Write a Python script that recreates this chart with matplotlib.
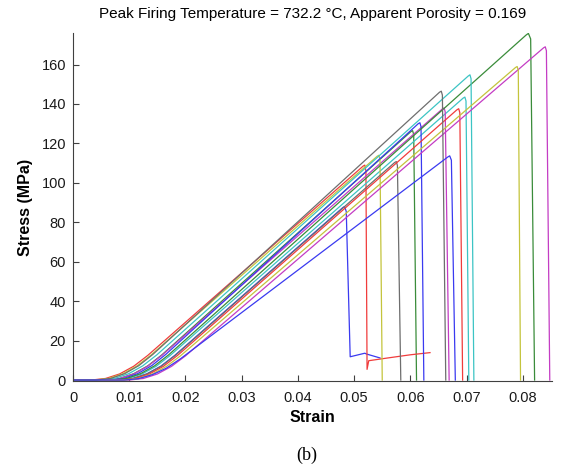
import matplotlib
matplotlib.use("Agg")
import matplotlib.pyplot as plt

# colours of the traces (old MATLAB order, drawn a bit lighter)
c_blue = "#3a3af0"
c_green = "#3a8c3a"
c_red = "#f03c3c"
c_cyan = "#3cc4c4"
c_magenta = "#c43cc4"
c_yellow = "#c4c43c"
c_gray = "#6e6e6e"

# strain / stress points, one pair of lists per specimen
blue1_strain = [0, 0.0081, 0.0106, 0.0131, 0.0156, 0.0181, 0.0480, 0.0483, 0.0486, 0.0493, 0.0519, 0.0522, 0.0546]
blue1_stress = [0, 0, 0.8, 3.1, 7.0, 12.5, 87.5, 88.0, 85.5, 11.8, 13.6, 13.2, 11.2]

green1_strain = [0, 0.0058, 0.0083, 0.0108, 0.0133, 0.0158, 0.0601, 0.0604, 0.0606, 0.0611]
green1_stress = [0, 0, 0.8, 3.2, 7.2, 12.75, 126.0, 126.5, 124.5, 0]

red1_strain = [0, 0.0033, 0.0058, 0.0083, 0.0108, 0.0133, 0.0516, 0.0519, 0.0521, 0.0523, 0.0526, 0.0560, 0.0600, 0.0635]
red1_stress = [0, 0, 0.8, 3.1, 7.0, 12.5, 108.5, 109.0, 106.0, 5.4, 9.8, 11.2, 12.8, 13.9]

cyan1_strain = [0, 0.0073, 0.0098, 0.0123, 0.0148, 0.0173, 0.0694, 0.0697, 0.0699, 0.0704]
cyan1_stress = [0, 0, 0.8, 3.1, 7.0, 12.5, 143.0, 143.5, 141.5, 0]

magenta1_strain = [0, 0.0058, 0.0083, 0.0108, 0.0133, 0.0158, 0.0657, 0.0660, 0.0662, 0.0669]
magenta1_stress = [0, 0, 0.8, 3.1, 7.0, 12.5, 137.5, 138.0, 136.0, 0]

yellow1_strain = [0, 0.0038, 0.0063, 0.0088, 0.0113, 0.0138, 0.0541, 0.0544, 0.0546, 0.0550]
yellow1_stress = [0, 0, 0.8, 3.1, 7.0, 12.5, 113.5, 114.0, 112.0, 0]

gray1_strain = [0, 0.0082, 0.0107, 0.0132, 0.0157, 0.0182, 0.0572, 0.0575, 0.0577, 0.0583]
gray1_stress = [0, 0, 0.8, 3.1, 7.0, 12.5, 110.3, 110.8, 108.8, 0]

blue2_strain = [0, 0.0065, 0.0090, 0.0115, 0.0140, 0.0165, 0.0614, 0.0617, 0.0619, 0.0624]
blue2_stress = [0, 0, 0.8, 3.25, 7.3, 13.0, 130.0, 130.5, 128.5, 0]

green2_strain = [0, 0.0070, 0.0095, 0.0120, 0.0145, 0.0170, 0.0806, 0.0810, 0.0814, 0.0821]
green2_stress = [0, 0, 0.8, 3.2, 7.2, 12.75, 175.0, 175.8, 173.0, 0]

red2_strain = [0, 0.0086, 0.0111, 0.0136, 0.0161, 0.0186, 0.0683, 0.0686, 0.0688, 0.0693]
red2_stress = [0, 0, 0.8, 3.1, 7.0, 12.5, 137.1, 137.6, 135.6, 0]

cyan2_strain = [0, 0.0049, 0.0074, 0.0099, 0.0124, 0.0149, 0.0703, 0.0706, 0.0708, 0.0713]
cyan2_stress = [0, 0, 0.8, 3.2, 7.2, 12.75, 154.2, 154.8, 152.8, 0]

magenta2_strain = [0, 0.0100, 0.0125, 0.0150, 0.0175, 0.0200, 0.0837, 0.0840, 0.0842, 0.0848]
magenta2_stress = [0, 0, 0.77, 3.06, 6.9, 12.25, 168.5, 169.0, 167.0, 0]

yellow2_strain = [0, 0.0091, 0.0116, 0.0141, 0.0166, 0.0191, 0.0787, 0.0790, 0.0792, 0.0796]
yellow2_stress = [0, 0, 0.77, 3.06, 6.9, 12.25, 158.5, 159.0, 157.0, 0]

gray2_strain = [0, 0.0042, 0.0067, 0.0092, 0.0117, 0.0142, 0.0652, 0.0655, 0.0657, 0.0663]
gray2_stress = [0, 0, 0.81, 3.25, 7.3, 13.0, 146.0, 146.5, 144.5, 0]

blue3_strain = [0, 0.0091, 0.0116, 0.0141, 0.0166, 0.0191, 0.0667, 0.0670, 0.0673, 0.0680]
blue3_stress = [0, 0, 0.67, 2.7, 6.0, 10.75, 113.2, 113.7, 111.5, 0]

x_ticks = [0, 0.01, 0.02, 0.03, 0.04, 0.05, 0.06, 0.07, 0.08]
x_tick_labels = ["0", "0.01", "0.02", "0.03", "0.04", "0.05", "0.06", "0.07", "0.08"]
y_ticks = [0, 20, 40, 60, 80, 100, 120, 140, 160]

title = "Peak Firing Temperature = 732.2 \u00b0C, Apparent Porosity = 0.169"

curves = [
    (blue1_strain, blue1_stress, c_blue),
    (green1_strain, green1_stress, c_green),
    (red1_strain, red1_stress, c_red),
    (cyan1_strain, cyan1_stress, c_cyan),
    (magenta1_strain, magenta1_stress, c_magenta),
    (yellow1_strain, yellow1_stress, c_yellow),
    (gray1_strain, gray1_stress, c_gray),
    (blue2_strain, blue2_stress, c_blue),
    (green2_strain, green2_stress, c_green),
    (red2_strain, red2_stress, c_red),
    (cyan2_strain, cyan2_stress, c_cyan),
    (magenta2_strain, magenta2_stress, c_magenta),
    (yellow2_strain, yellow2_stress, c_yellow),
    (gray2_strain, gray2_stress, c_gray),
    (blue3_strain, blue3_stress, c_blue),
]

plt.rcParams["font.family"] = ["Liberation Sans", "DejaVu Sans"]

fig = plt.figure(figsize=(5.63, 4.69), dpi=100)
ax = fig.add_axes([0.1297, 0.1876, 0.8508, 0.742])

for strain, stress, col in curves:
    ax.plot(strain, stress, color=col, lw=0.9)

ax.set_xlim(0, 0.0852)
ax.set_ylim(-0.5, 176)
ax.set_xticks(x_ticks)
ax.set_xticklabels(x_tick_labels)
ax.set_yticks(y_ticks)
ax.tick_params(direction="in", length=4, width=0.8, color="#404040",
               labelsize=10.5, labelcolor="#1a1a1a", pad=5)
ax.tick_params(axis="x", pad=7)
for side in ["top", "right"]:
    ax.spines[side].set_visible(False)
for side in ["left", "bottom"]:
    ax.spines[side].set_color("#404040")
    ax.spines[side].set_linewidth(0.8)

ax.set_xlabel("Strain", fontsize=11.5, fontweight="bold", labelpad=4)
ax.set_ylabel("Stress (MPa)", fontsize=11.5, fontweight="bold", labelpad=6)
ax.set_title(title, fontsize=11, pad=11)

fig.text(0.527, 0.02, "(b)", family="Liberation Serif", fontsize=13)

fig.savefig("out.png", dpi=100)
